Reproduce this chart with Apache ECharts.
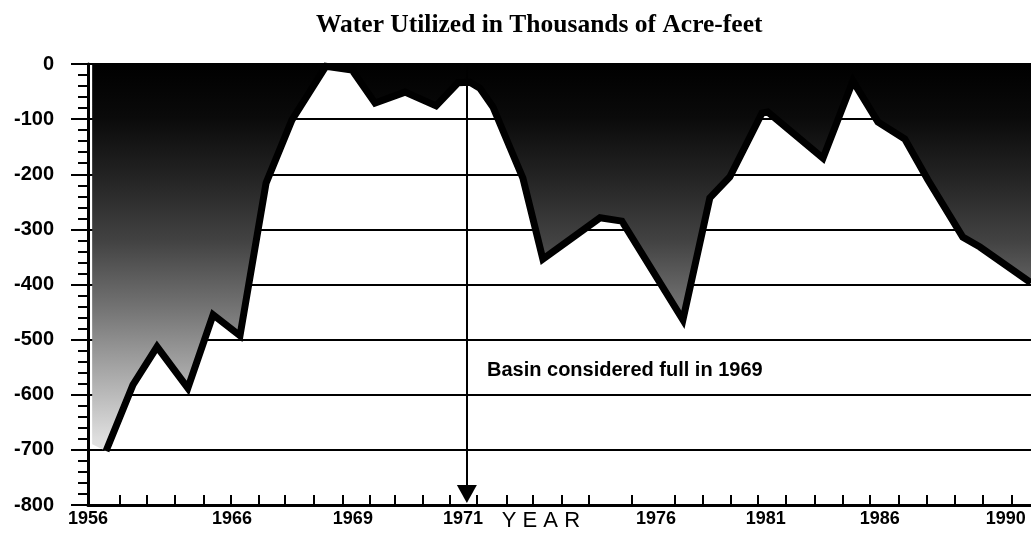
<!DOCTYPE html>
<html>
<head>
<meta charset="utf-8">
<script src="https://cdn.jsdelivr.net/npm/echarts@6/dist/echarts.min.js"></script>
<style>
html,body{margin:0;padding:0;background:#fff;}
#chart{width:1031px;height:535px;}
</style>
</head>
<body>
<div id="chart"></div>
<script>
// Horizontal position of each line vertex, in axis steps (about one per year) from the y-axis
const xPos = [0.65, 1.62, 2.49, 3.60, 4.51, 5.48, 6.42, 7.35, 8.58, 9.52,
  10.35, 11.43, 12.55, 13.34, 13.77, 14.13, 14.60, 15.21, 15.68, 16.40,
  18.46, 19.25, 21.45, 22.42, 23.14, 24.30, 24.51, 26.50, 27.58, 28.48,
  29.45, 30.28, 31.54, 32.16, 34.00];
// Water utilized (thousands of acre-feet)
const waterValues = [-702, -582, -513, -588, -455, -493, -216, -102, -4, -11,
  -71, -51, -76, -34, -33, -44, -78, -151, -207, -354,
  -279, -285, -464, -243, -205, -89, -87, -171, -31, -105,
  -136, -210, -314, -332, -397];
// The shaded band reaches back to the axis before the first plotted year
const shadeStartPos = [0.15];
const shadeStartValue = [-690];
// Tick marks along the year axis
const tickPos = [1.15, 2.13, 3.14, 4.18, 5.16, 6.16, 7.10, 8.15, 9.19, 10.17,
  11.07, 12.08, 13.05, 14.02, 15.10, 16.04, 17.09, 18.06, 19.61, 21.16,
  22.17, 23.18, 24.15, 25.16, 26.21, 27.22, 28.19, 29.24, 30.24, 31.25,
  32.26, 33.31];
// Year labels and where they sit
const yearLabels = ['1956', '1966', '1969', '1971', 'YEAR', '1976', '1981', '1986', '1990'];
const yearLabelPos = [0, 5.19, 9.55, 13.52, 16.33, 20.48, 24.44, 28.55, 33.09];
// Annotation
const fullYearPos = 13.66;
const annotationText = 'Basin considered full in 1969';
const titleText = 'Water Utilized in Thousands of Acre-feet';

const chart = echarts.init(document.getElementById('chart'), null, {renderer: 'canvas'});

const lineData = xPos.map((x, i) => [x, waterValues[i]]);
const shadeData = shadeStartPos.map((x, i) => [x, shadeStartValue[i]]).concat(lineData);

const option = {
  backgroundColor: '#fff',
  animation: false,
  title: [
    {
      text: titleText,
      left: 311, top: 7,
      textStyle: {fontFamily: 'Liberation Serif', fontWeight: 'bold', fontSize: 25.5, color: '#000'}
    },
    {
      text: annotationText,
      left: 482, top: 355,
      textStyle: {fontFamily: 'Liberation Sans', fontWeight: 'bold', fontSize: 20, color: '#000'}
    }
  ],
  grid: {left: 88, right: 0, top: 64, bottom: 30, containLabel: false, outerBoundsMode: 'none'},
  xAxis: {
    type: 'value',
    min: 0, max: 34,
    axisLine: {show: true, onZero: false, lineStyle: {color: '#000', width: 3}},
    axisTick: {show: true, inside: true, length: 10, lineStyle: {color: '#000', width: 2}, customValues: tickPos},
    axisLabel: {
      show: true, margin: 5,
      customValues: yearLabelPos,
      fontFamily: 'Liberation Sans', fontWeight: 'bold', fontSize: 18, color: '#000',
      formatter: function (v) {
        let best = -1, d = 1e9;
        yearLabelPos.forEach((p, i) => { if (Math.abs(p - v) < d) { d = Math.abs(p - v); best = i; } });
        const t = yearLabels[best];
        if (t === 'YEAR') return '{y|' + t.split('').join(' ') + '}';
        return t;
      },
      rich: {y: {fontFamily: 'Liberation Sans', fontWeight: 'normal', fontSize: 22, color: '#000'}}
    },
    splitLine: {show: false}
  },
  yAxis: {
    type: 'value',
    min: -800, max: 0, interval: 100,
    axisLine: {show: true, onZero: false, lineStyle: {color: '#000', width: 3}},
    axisTick: {show: true, length: 17, lineStyle: {color: '#000', width: 2}},
    minorTick: {show: true, splitNumber: 5, length: 10, lineStyle: {color: '#000', width: 2}},
    axisLabel: {margin: 34, fontFamily: 'Liberation Sans', fontWeight: 'bold', fontSize: 20, color: '#000'},
    splitLine: {show: true, lineStyle: {color: '#000', width: 2}}
  },
  series: [
    {
      name: 'shade',
      type: 'line',
      z: 1,
      data: shadeData,
      showSymbol: false,
      symbol: 'none',
      lineStyle: {width: 0, opacity: 0},
      areaStyle: {
        origin: 'end',
        opacity: 1,
        color: {
          type: 'linear', x: 0, y: 64, x2: 0, y2: 505, global: true,
          colorStops: [
            {offset: 0, color: '#000'},
            {offset: 0.12, color: '#0a0a0a'},
            {offset: 0.25, color: '#222'},
            {offset: 0.4, color: '#424242'},
            {offset: 0.55, color: '#727272'},
            {offset: 0.7, color: '#a8a8a8'},
            {offset: 0.85, color: '#dedede'},
            {offset: 1, color: '#fff'}
          ]
        }
      }
    },
    {
      name: 'water',
      type: 'line',
      z: 3,
      data: lineData,
      showSymbol: false,
      symbol: 'none',
      lineStyle: {color: '#000', width: 7, join: 'miter', miterLimit: 10},
      markLine: {
        silent: true,
        symbol: ['none', 'triangle'],
        symbolSize: [20, 18],
        label: {show: false},
        lineStyle: {color: '#000', width: 2, type: 'solid'},
        data: [[{coord: [fullYearPos, 0]}, {coord: [fullYearPos, -780]}]]
      }
    }
  ]
};
chart.setOption(option);
</script>
</body>
</html>
